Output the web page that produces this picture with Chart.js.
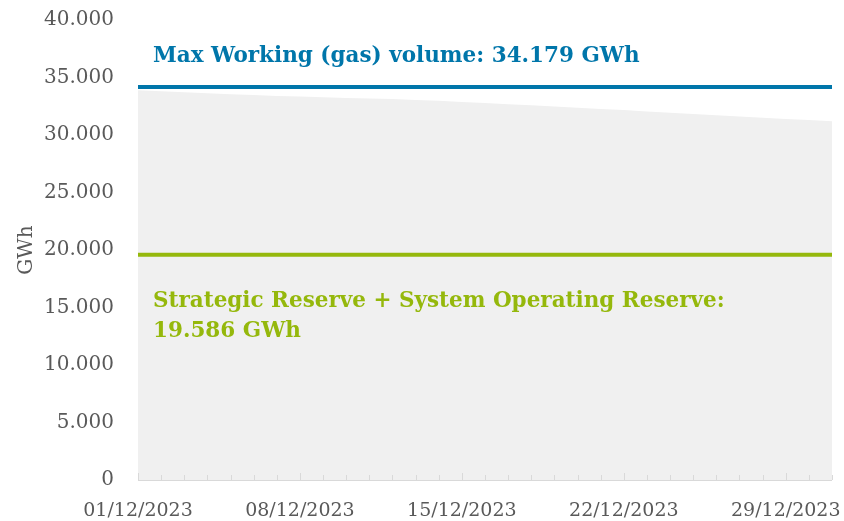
<!DOCTYPE html>
<html>
<head>
<meta charset="utf-8">
<script src="https://cdn.jsdelivr.net/npm/chart.js@4/dist/chart.umd.min.js"></script>
<style>
    html, body { margin: 0; padding: 0; background: #fff; }
    #wrap { width: 844px; height: 521px; position: relative; }
</style>
</head>
<body>
<div id="wrap"><canvas id="myChart"></canvas></div>
<script>
// gas in storage, December 2023 (GWh)
const dateLabels = [
    '01/12/2023', '02/12/2023', '03/12/2023', '04/12/2023', '05/12/2023', '06/12/2023', '07/12/2023',
    '08/12/2023', '09/12/2023', '10/12/2023', '11/12/2023', '12/12/2023', '13/12/2023', '14/12/2023',
    '15/12/2023', '16/12/2023', '17/12/2023', '18/12/2023', '19/12/2023', '20/12/2023', '21/12/2023',
    '22/12/2023', '23/12/2023', '24/12/2023', '25/12/2023', '26/12/2023', '27/12/2023', '28/12/2023',
    '29/12/2023', '30/12/2023', '31/12/2023'
];
const storedGas = [
    33900, 33800, 33720, 33630, 33550, 33480, 33400,
    33350, 33280, 33220, 33170, 33120, 33050, 32970,
    32880, 32790, 32680, 32580, 32470, 32370, 32270,
    32170, 32050, 31940, 31830, 31720, 31600, 31500,
    31400, 31300, 31200
];
const maxWorking = 34179;
const reserveLevel = 19586;
const yMax = 40000;
const yStep = 5000;

const BLUE = '#0076aa';
const GREEN = '#95b80c';
const GREY_TEXT = '#595959';
const FONT = "'DejaVu Serif', serif";

const fmt = v => v.toLocaleString('de-DE');

// ticks inside the plot on the x axis + the two text labels
const extras = {
    id: 'extras',
    afterDatasetsDraw(chart) {
        const {ctx, chartArea, scales: {x, y}} = chart;
        ctx.save();
        ctx.strokeStyle = '#d9d9d9';
        ctx.lineWidth = 1;
        ctx.beginPath();
        ctx.moveTo(chartArea.left, chartArea.bottom + 0.5);
        ctx.lineTo(chartArea.right, chartArea.bottom + 0.5);
        for (let i = 0; i < dateLabels.length; i++) {
            const px = Math.round(x.getPixelForValue(i)) + 0.5;
            const len = i % 7 === 0 ? 7 : 5;
            ctx.moveTo(px, chartArea.bottom);
            ctx.lineTo(px, chartArea.bottom - len);
        }
        ctx.stroke();

        ctx.font = "bold 21.5px " + FONT;
        ctx.textAlign = 'left';
        ctx.textBaseline = 'alphabetic';
        const tx = chartArea.left + 15;
        ctx.fillStyle = BLUE;
        ctx.fillText('Max Working (gas) volume: ' + fmt(maxWorking) + ' GWh', tx, y.getPixelForValue(maxWorking) - 25);
        ctx.fillStyle = GREEN;
        const gy = y.getPixelForValue(reserveLevel);
        ctx.fillText('Strategic Reserve + System Operating Reserve:', tx, gy + 52);
        ctx.fillText(fmt(reserveLevel) + ' GWh', tx, gy + 82);
        ctx.restore();
    }
};

document.addEventListener('DOMContentLoaded', () => {
    const GRAPH = document.getElementById('myChart').getContext('2d');
    window.myGraph = new Chart(GRAPH, {
        type: 'line',
        data: {
            labels: dateLabels,
            datasets: [
                {
                    label: 'Max working volume',
                    data: [{x: dateLabels[0], y: maxWorking}, {x: dateLabels[dateLabels.length - 1], y: maxWorking}],
                    borderColor: BLUE,
                    borderWidth: 4,
                    pointRadius: 0,
                    fill: false,
                    order: 0
                },
                {
                    label: 'Reserve',
                    data: [{x: dateLabels[0], y: reserveLevel}, {x: dateLabels[dateLabels.length - 1], y: reserveLevel}],
                    borderColor: GREEN,
                    borderWidth: 4,
                    pointRadius: 0,
                    fill: false,
                    order: 1
                },
                {
                    label: 'Stored gas',
                    data: storedGas,
                    backgroundColor: '#f0f0f0',
                    borderWidth: 0,
                    pointRadius: 0,
                    fill: 'origin',
                    tension: 0,
                    order: 2
                }
            ]
        },
        options: {
            responsive: true,
            maintainAspectRatio: false,
            animation: false,
            layout: { padding: { left: 0, right: 12, top: 20, bottom: 0 } },
            scales: {
                x: {
                    offset: false,
                    grid: { display: false, drawTicks: false },
                    border: { display: false },
                    ticks: {
                        autoSkip: false,
                        maxRotation: 0,
                        padding: 20,
                        color: GREY_TEXT,
                        font: { family: FONT, size: 19 },
                        callback: function(value, index) {
                            return index % 7 === 0 ? dateLabels[index] : '';
                        }
                    },
                    afterFit: s => {
                        s.height = 41;
                        s.paddingLeft = 0;
                        s.paddingRight = 0;
                    }
                },
                y: {
                    min: 0,
                    max: yMax,
                    grid: { display: false, drawTicks: false },
                    border: { display: false },
                    ticks: {
                        stepSize: yStep,
                        padding: 24,
                        color: GREY_TEXT,
                        font: { family: FONT, size: 20 },
                        callback: v => fmt(v)
                    },
                    title: {
                        display: true,
                        text: 'GWh',
                        color: GREY_TEXT,
                        font: { family: FONT, size: 20 },
                        padding: { top: 15, bottom: 0 }
                    },
                    afterFit: s => {
                        s.width = 138;
                        s.paddingTop = 0;
                        s.paddingBottom = 0;
                    }
                }
            },
            plugins: {
                legend: { display: false },
                tooltip: { enabled: false }
            }
        },
        plugins: [extras]
    });
});
</script>
</body>
</html>
